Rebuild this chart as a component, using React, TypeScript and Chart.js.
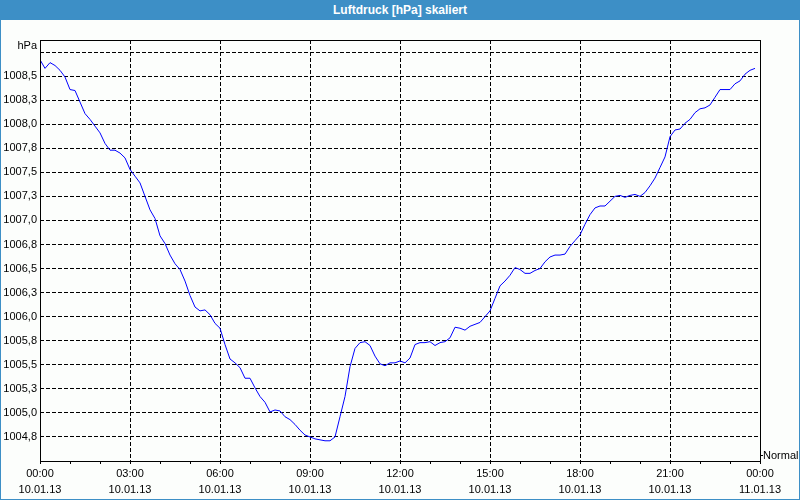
import React, { useEffect, useRef } from 'react';
import { Chart, registerables } from 'chart.js';

Chart.register(...registerables);

const TITLE = 'Luftdruck [hPa] skaliert';
const Y_UNIT = 'hPa';
const RIGHT_LABEL = 'Normal';

// Pressure samples every 10 minutes from 10.01.13 00:00
const STEP_MINUTES = 10;
const pressure = [
  1008.67, 1008.58, 1008.64, 1008.61, 1008.56, 1008.49, 1008.36, 1008.35, 1008.23, 1008.11,
  1008.05, 1007.98, 1007.91, 1007.80, 1007.73, 1007.73, 1007.70, 1007.65, 1007.53, 1007.46,
  1007.39, 1007.25, 1007.11, 1007.02, 1006.84, 1006.76, 1006.64, 1006.55, 1006.49, 1006.37,
  1006.22, 1006.10, 1006.06, 1006.07, 1006.02, 1005.93, 1005.88, 1005.71, 1005.56, 1005.52,
  1005.47, 1005.36, 1005.36, 1005.26, 1005.17, 1005.11, 1005.01, 1005.03, 1005.02, 1004.96,
  1004.93, 1004.88, 1004.82, 1004.77, 1004.75, 1004.73, 1004.72, 1004.71, 1004.71, 1004.75,
  1004.96, 1005.17, 1005.48, 1005.67, 1005.73, 1005.74, 1005.70, 1005.59, 1005.51, 1005.49,
  1005.52, 1005.52, 1005.54, 1005.52, 1005.57, 1005.71, 1005.73, 1005.73, 1005.74, 1005.70,
  1005.73, 1005.74, 1005.78, 1005.89, 1005.88, 1005.86, 1005.90, 1005.92, 1005.94, 1006.00,
  1006.06, 1006.19, 1006.32, 1006.37, 1006.43, 1006.51, 1006.49, 1006.45, 1006.45, 1006.48,
  1006.50, 1006.57, 1006.62, 1006.64, 1006.64, 1006.65, 1006.73, 1006.79, 1006.85, 1006.96,
  1007.06, 1007.13, 1007.15, 1007.15, 1007.20, 1007.25, 1007.26, 1007.24, 1007.26, 1007.27,
  1007.25, 1007.29, 1007.36, 1007.44, 1007.55, 1007.66, 1007.87, 1007.94, 1007.95, 1008.01,
  1008.05, 1008.12, 1008.16, 1008.17, 1008.20, 1008.28, 1008.36, 1008.36, 1008.36, 1008.42,
  1008.45, 1008.52, 1008.56, 1008.58,
];

const X_MIN = 0;
const X_MAX = 24;
const xMinorTickHours = [0, 1, 2, 3, 4, 5, 6, 7, 8, 9, 10, 11, 12, 13, 14, 15, 16, 17, 18, 19, 20, 21, 22, 23, 24];
const xTickHours = [0, 3, 6, 9, 12, 15, 18, 21, 24];
const xTickTimes = ['00:00', '03:00', '06:00', '09:00', '12:00', '15:00', '18:00', '21:00', '00:00'];
const xTickDates = ['10.01.13', '10.01.13', '10.01.13', '10.01.13', '10.01.13', '10.01.13', '10.01.13', '10.01.13', '11.01.13'];

const Y_MIN = 1004.5;
const Y_MAX = 1008.875;
const yTickValues = [
  1004.75, 1005.0, 1005.25, 1005.5, 1005.75, 1006.0, 1006.25, 1006.5, 1006.75,
  1007.0, 1007.25, 1007.5, 1007.75, 1008.0, 1008.25, 1008.5, 1008.75,
];
const yTickLabels = [
  '1004,8', '1005,0', '1005,3', '1005,5', '1005,8', '1006,0', '1006,3', '1006,5', '1006,8',
  '1007,0', '1007,3', '1007,5', '1007,8', '1008,0', '1008,3', '1008,5', '',
];

const FONT = 'Liberation Sans';
const TEXT_COLOR = '#000000';
const LINE_COLOR = '#0000ff';
const FRAME_BLUE = '#3d8fc6';
const BG = '#fcfefc';

const decorPlugin = {
  id: 'decor',
  afterDraw(chart: any) {
    const { ctx, chartArea: a } = chart;
    ctx.save();
    ctx.setLineDash([]);
    ctx.strokeStyle = '#000';
    ctx.lineWidth = 1;
    ctx.strokeRect(a.left + 0.5, a.top + 0.5, a.right - a.left, a.bottom - a.top);
    // small mark for the right-hand label
    const ny = a.bottom - 6;
    ctx.beginPath();
    ctx.moveTo(a.right, ny + 0.5);
    ctx.lineTo(a.right + 3, ny + 0.5);
    ctx.stroke();
    ctx.fillStyle = TEXT_COLOR;
    ctx.font = `11px "${FONT}"`;
    ctx.textBaseline = 'middle';
    ctx.textAlign = 'left';
    ctx.fillText(RIGHT_LABEL, a.right + 3, ny + 0.5);
    ctx.textAlign = 'right';
    ctx.fillText(Y_UNIT, a.left - 3, a.top + 6);
    ctx.restore();
  },
};

export default function App() {
  const canvasRef = useRef<HTMLCanvasElement | null>(null);

  useEffect(() => {
    const canvas = canvasRef.current;
    if (!canvas) return;
    const points = pressure.map((v, i) => ({ x: (i * STEP_MINUTES) / 60, y: v }));
    const chart = new Chart(canvas, {
      type: 'line',
      data: {
        datasets: [
          {
            data: points,
            borderColor: LINE_COLOR,
            borderWidth: 1,
            pointRadius: 0,
            tension: 0,
            fill: false,
          },
        ],
      },
      options: {
        animation: false,
        responsive: false,
        events: [],
        layout: { padding: { left: 0, right: 40, top: 20, bottom: 0 } },
        plugins: {
          legend: { display: false },
          title: { display: false },
          tooltip: { enabled: false },
        },
        scales: {
          x: {
            type: 'linear',
            min: X_MIN,
            max: X_MAX,
            afterBuildTicks: (scale: any) => {
              scale.ticks = xMinorTickHours.map((v) => ({ value: v }));
            },
            afterFit: (scale: any) => {
              scale.height = 39;
            },
            border: { display: false, dash: [4, 2] },
            grid: {
              color: (ctx: any) =>
                ctx.tick && xTickHours.includes(ctx.tick.value) ? '#000' : 'rgba(0,0,0,0)',
              lineWidth: 1,
              drawTicks: true,
              tickLength: 3,
              tickColor: '#000',
              tickBorderDash: [],
            },
            ticks: {
              autoSkip: false,
              maxRotation: 0,
              minRotation: 0,
              padding: 2,
              color: TEXT_COLOR,
              font: { family: FONT, size: 11, lineHeight: 16 / 11 },
              callback: (value: any) => {
                const idx = xTickHours.indexOf(Number(value));
                return idx >= 0 ? [xTickTimes[idx], xTickDates[idx]] : '';
              },
            },
          },
          y: {
            type: 'linear',
            min: Y_MIN,
            max: Y_MAX,
            afterBuildTicks: (scale: any) => {
              scale.ticks = yTickValues.map((v) => ({ value: v }));
            },
            afterFit: (scale: any) => {
              scale.width = 40;
            },
            border: { display: false, dash: [4, 2] },
            grid: {
              color: '#000',
              lineWidth: 1,
              drawTicks: false,
            },
            ticks: {
              autoSkip: false,
              padding: 3,
              color: TEXT_COLOR,
              font: { family: FONT, size: 11 },
              callback: (value: any) => {
                const idx = yTickValues.indexOf(Number(value));
                return idx >= 0 ? yTickLabels[idx] : '';
              },
            },
          },
        },
      },
      plugins: [decorPlugin],
    } as any);
    return () => chart.destroy();
  }, []);

  return (
    <div
      style={{
        position: 'fixed',
        left: 0,
        top: 0,
        width: 800,
        height: 500,
        background: BG,
        overflow: 'hidden',
      }}
    >
      <div
        style={{
          position: 'absolute',
          left: 0,
          top: 0,
          width: 800,
          height: 20,
          background: FRAME_BLUE,
          color: '#ffffff',
          fontFamily: FONT,
          fontWeight: 'bold',
          fontSize: 12,
          lineHeight: '20px',
          textAlign: 'center',
        }}
      >
        {TITLE}
      </div>
      <canvas
        ref={canvasRef}
        width={800}
        height={480}
        style={{ position: 'absolute', left: 0, top: 20, width: 800, height: 480, display: 'block' }}
      />
      <div
        style={{
          position: 'absolute',
          left: 0,
          top: 0,
          width: 800,
          height: 500,
          boxSizing: 'border-box',
          borderLeft: `1px solid ${FRAME_BLUE}`,
          borderRight: `1px solid ${FRAME_BLUE}`,
          borderBottom: `1px solid ${FRAME_BLUE}`,
          pointerEvents: 'none',
        }}
      />
    </div>
  );
}
